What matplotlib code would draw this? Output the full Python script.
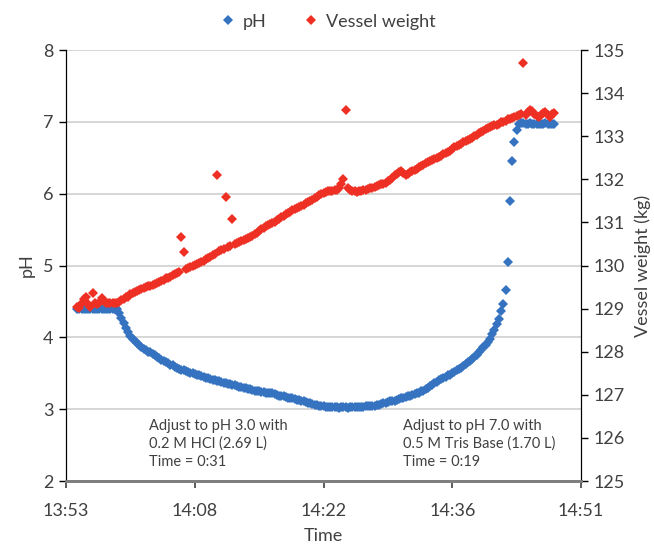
import numpy as np
import matplotlib
matplotlib.use("Agg")
import matplotlib.pyplot as plt
from matplotlib.lines import Line2D

plt.rcParams['font.family'] = ['Lato', 'DejaVu Sans']

# logger readings every 15 s, minutes after 13:53
t_start, t_step = 1.25, 0.25

# pH (left axis)
ph = [
    4.40, 4.40, 4.40, 4.40, 4.40, 4.40, 4.40, 4.40,
    4.40, 4.40, 4.40, 4.40, 4.40, 4.40, 4.40, 4.40,
    4.40, 4.40, 4.39, 4.34, 4.27, 4.20, 4.13, 4.07,
    4.02, 3.98, 3.95, 3.92, 3.89, 3.87, 3.84, 3.82,
    3.80, 3.79, 3.77, 3.75, 3.73, 3.71, 3.69, 3.67,
    3.66, 3.64, 3.62, 3.61, 3.59, 3.57, 3.56, 3.55,
    3.54, 3.53, 3.52, 3.51, 3.50, 3.49, 3.48, 3.47,
    3.46, 3.45, 3.44, 3.43, 3.42, 3.41, 3.40, 3.39,
    3.39, 3.38, 3.37, 3.36, 3.35, 3.35, 3.34, 3.33,
    3.32, 3.31, 3.31, 3.30, 3.29, 3.28, 3.28, 3.27,
    3.26, 3.25, 3.25, 3.24, 3.24, 3.23, 3.23, 3.22,
    3.22, 3.21, 3.20, 3.19, 3.19, 3.18, 3.17, 3.16,
    3.15, 3.15, 3.14, 3.13, 3.13, 3.12, 3.11, 3.10,
    3.09, 3.08, 3.07, 3.06, 3.06, 3.05, 3.04, 3.04,
    3.03, 3.03, 3.03, 3.03, 3.03, 3.03, 3.02, 3.03,
    3.03, 3.03, 3.02, 3.03, 3.03, 3.03, 3.03, 3.03,
    3.03, 3.03, 3.04, 3.04, 3.04, 3.05, 3.05, 3.06,
    3.06, 3.07, 3.08, 3.09, 3.10, 3.11, 3.11, 3.12,
    3.13, 3.14, 3.15, 3.16, 3.17, 3.18, 3.19, 3.20,
    3.21, 3.22, 3.23, 3.25, 3.26, 3.28, 3.30, 3.32,
    3.34, 3.36, 3.38, 3.40, 3.42, 3.43, 3.45, 3.47,
    3.48, 3.50, 3.52, 3.54, 3.56, 3.58, 3.60, 3.63,
    3.65, 3.67, 3.70, 3.73, 3.76, 3.79, 3.82, 3.86,
    3.90, 3.94, 3.98, 4.04, 4.10, 4.18, 4.26, 4.36,
    4.47, 4.66, 5.05, 5.90, 6.45, 6.72, 6.88, 6.97,
    6.98, 6.98, 6.97, 6.97, 6.98, 6.97, 6.97, 6.97,
    6.97, 6.97, 6.97, 6.98, 6.97, 6.97, 6.97, 6.97,
]

# vessel weight in kg (right axis)
weight = [
    129.04, 129.02, 129.12, 129.22, 129.28, 129.10, 129.04, 129.37,
    129.12, 129.10, 129.14, 129.25, 129.18, 129.12, 129.13, 129.12,
    129.12, 129.13, 129.14, 129.16, 129.20, 129.22, 129.26, 129.28,
    129.33, 129.36, 129.38, 129.41, 129.43, 129.45, 129.47, 129.50,
    129.52, 129.53, 129.55, 129.58, 129.60, 129.62, 129.64, 129.67,
    129.70, 129.72, 129.74, 129.77, 129.80, 129.82, 129.84, 130.67,
    130.31, 129.91, 129.94, 129.96, 130.00, 130.02, 130.03, 130.06,
    130.09, 130.11, 130.14, 130.17, 130.20, 130.24, 130.27, 132.09,
    130.33, 130.36, 130.39, 131.59, 130.43, 130.45, 131.07, 130.50,
    130.52, 130.55, 130.57, 130.59, 130.61, 130.63, 130.66, 130.69,
    130.72, 130.76, 130.80, 130.84, 130.88, 130.91, 130.94, 130.96,
    130.99, 131.02, 131.05, 131.09, 131.12, 131.16, 131.19, 131.22,
    131.25, 131.28, 131.30, 131.33, 131.36, 131.38, 131.41, 131.44,
    131.47, 131.50, 131.53, 131.56, 131.60, 131.63, 131.66, 131.68,
    131.70, 131.72, 131.74, 131.73, 131.76, 131.75, 131.80, 131.88,
    132.00, 133.61, 131.79, 131.75, 131.73, 131.72, 131.71, 131.72,
    131.73, 131.75, 131.76, 131.78, 131.79, 131.80, 131.82, 131.84,
    131.86, 131.88, 131.90, 131.92, 131.95, 131.99, 132.04, 132.09,
    132.13, 132.17, 132.19, 132.15, 132.11, 132.12, 132.16, 132.19,
    132.22, 132.25, 132.28, 132.32, 132.34, 132.37, 132.40, 132.42,
    132.44, 132.47, 132.49, 132.52, 132.55, 132.58, 132.60, 132.63,
    132.65, 132.70, 132.76, 132.78, 132.80, 132.83, 132.86, 132.88,
    132.91, 132.94, 132.97, 133.00, 133.03, 133.07, 133.10, 133.13,
    133.16, 133.18, 133.21, 133.23, 133.25, 133.26, 133.29, 133.32,
    133.34, 133.36, 133.39, 133.41, 133.43, 133.45, 133.47, 133.49,
    133.52, 134.71, 133.50, 133.56, 133.60, 133.58, 133.52, 133.47,
    133.45, 133.50, 133.55, 133.56, 133.50, 133.45, 133.52, 133.55,
]

t = t_start + t_step * np.arange(len(ph))

time_ticks = [0, 14.5, 29, 43.5, 58]
time_labels = ['13:53', '14:08', '14:22', '14:36', '14:51']

note1 = 'Adjust to pH 3.0 with\n0.2 M HCl (2.69 L)\nTime = 0:31'
note2 = 'Adjust to pH 7.0 with\n0.5 M Tris Base (1.70 L)\nTime = 0:19'

blue = '#3572C0'
red = '#EE3024'
txt = '#404040'

fig = plt.figure(figsize=(6.54, 5.45), dpi=100)
ax = fig.add_axes([0.1009, 0.1174, 0.7875, 0.7908])
ax2 = ax.twinx()

ax.plot(t, ph, 'D', color=blue, ms=5.4, mew=0, zorder=3)
ax2.plot(t, weight, 'D', color=red, ms=5.4, mew=0, zorder=3)

ax.set_xlim(0, 58)
ax.set_ylim(2, 8)
ax2.set_ylim(125, 135)
ax.set_xticks(time_ticks)
ax.set_xticklabels(time_labels)
ax.set_yticks(range(2, 9))
ax2.set_yticks(range(125, 136))

ax.grid(axis='y', color='#d0d0d0', lw=1.2)
ax.set_axisbelow(True)

for a in (ax, ax2):
    a.spines['top'].set_visible(False)
    a.spines['left'].set_color('black')
    a.spines['right'].set_color('black')
    a.spines['bottom'].set_color('#7f7f7f')
    a.spines['bottom'].set_linewidth(2)
    a.tick_params(direction='out', length=5, width=1, colors='black',
                  labelcolor=txt, labelsize=13, pad=4)
ax.tick_params(axis='x', colors='#404040', labelcolor=txt, width=1.2, pad=11)

ax.set_xlabel('Time', fontsize=13, color=txt, labelpad=6)
ax.set_ylabel('pH', fontsize=13, color=txt, labelpad=6)
ax2.set_ylabel('Vessel weight (kg)', fontsize=13, color=txt, labelpad=7)

ax.text(9.3, 2.87, note1, fontsize=10.5, color=txt, va='top', ha='left',
        linespacing=1.35)
ax.text(37.9, 2.87, note2, fontsize=10.5, color=txt, va='top', ha='left',
        linespacing=1.35)

handles = [
    Line2D([], [], ls='none', marker='D', color=blue, ms=5, mew=0),
    Line2D([], [], ls='none', marker='D', color=red, ms=5, mew=0),
]
fig.legend(handles, ['pH', 'Vessel weight'], loc='center',
           bbox_to_anchor=(0.5, 0.96), ncol=2, frameon=False,
           fontsize=13, labelcolor=txt, handletextpad=0.3,
           columnspacing=2.0, handlelength=1.0)

fig.savefig('out.png', dpi=100)
